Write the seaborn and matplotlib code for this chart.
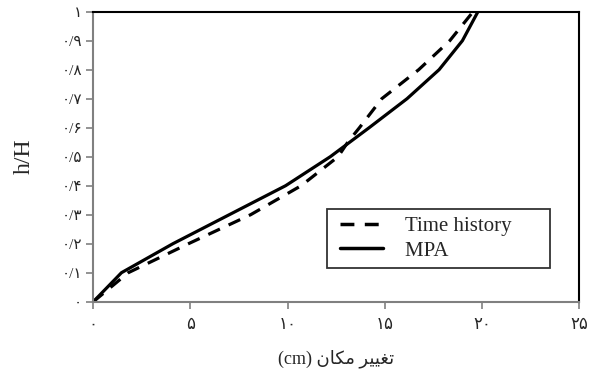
import matplotlib
matplotlib.use("Agg")
import matplotlib.pyplot as plt
from matplotlib.legend_handler import HandlerLine2D
import seaborn as sns
import pandas as pd
import numpy as np

# ---- data ----
th_x = [0, 1.8, 4.9, 8.1, 10.7, 12.6, 13.1, 13.7, 14.85, 16.75, 18.35, 19.55]
th_y = [0, 0.1, 0.2, 0.3, 0.4, 0.5, 0.55, 0.6, 0.7, 0.8, 0.9, 1.0]
mpa_x = [0, 1.45, 4.1, 7.0, 9.9, 12.2, 14.2, 16.15, 17.8, 19.0, 19.8]
mpa_y = [0, 0.1, 0.2, 0.3, 0.4, 0.5, 0.6, 0.7, 0.8, 0.9, 1.0]
series_names = ["Time history", "MPA"]

x_ticks = [0, 5, 10, 15, 20, 25]
x_tick_labels = ["۰", "۵", "۱۰", "۱۵", "۲۰", "۲۵"]
y_ticks = [0, 0.1, 0.2, 0.3, 0.4, 0.5, 0.6, 0.7, 0.8, 0.9, 1.0]
y_tick_labels = ["۰", "۰/۱", "۰/۲", "۰/۳", "۰/۴", "۰/۵", "۰/۶", "۰/۷", "۰/۸", "۰/۹", "۱"]
# "تغییر مکان (cm)" written in visual (left-to-right) order with presentation forms
x_label = "(cm) \uFEE5\uFE8E\uFB91\uFEE3 \uFEAE\uFEF4\uFEF4\uFED0\uFE97"
y_label = "h/H"

sns.set_theme(style="white")
plt.rcParams["font.family"] = ["Liberation Serif", "DejaVu Sans"]

df = pd.concat([
    pd.DataFrame({"x": th_x, "y": th_y, "series": series_names[0]}),
    pd.DataFrame({"x": mpa_x, "y": mpa_y, "series": series_names[1]}),
], ignore_index=True)

fig = plt.figure(figsize=(5.92, 3.71), dpi=100)
ax = fig.add_axes([0.1576, 0.1868, 0.8204, 0.7817])

sns.lineplot(data=df, x="x", y="y", style="series", style_order=series_names,
             dashes={"Time history": (4, 3), "MPA": ""},
             color="black", linewidth=2.3, sort=False, estimator=None, ax=ax)

ax.set_xlim(0, 25)
ax.set_ylim(0, 1)
ax.set_xticks(x_ticks)
ax.set_xticklabels(x_tick_labels, fontsize=12)
ax.set_yticks(y_ticks)
ax.set_yticklabels(y_tick_labels, fontsize=11)
ax.tick_params(axis="both", direction="out", length=5, width=1.2, color="#808080",
               left=True, bottom=True)
ax.tick_params(axis="y", pad=3)
ax.tick_params(axis="x", pad=6)
ax.set_xlabel(x_label, fontsize=13, labelpad=12)
ax.set_ylabel(y_label, fontsize=17, labelpad=19)

for s in ["left", "bottom"]:
    ax.spines[s].set_color("#808080")
    ax.spines[s].set_linewidth(1.5)
for s in ["top", "right"]:
    ax.spines[s].set_color("black")
    ax.spines[s].set_linewidth(1.5)


class ShiftedLineHandler(HandlerLine2D):
    """Draw the legend sample line shifted a little to the right."""
    shift = 4.2  # points

    def create_artists(self, legend, orig_handle, xdescent, ydescent, width,
                       height, fontsize, trans):
        artists = super().create_artists(legend, orig_handle, xdescent, ydescent,
                                         width, height, fontsize, trans)
        for a in artists:
            xd = np.asarray(a.get_xdata(), dtype=float)
            a.set_xdata(xd + self.shift)
        return artists


handles, labels = ax.get_legend_handles_labels()
pairs = [(h, l) for h, l in zip(handles, labels) if l in series_names]
handles = [p[0] for p in pairs]
labels = [p[1] + "      " for p in pairs]
for h in handles:
    h.set_linewidth(2.5)
leg = ax.legend(handles, labels, loc="lower left", bbox_to_anchor=(0.481, 0.116),
                fontsize=15, frameon=True, fancybox=False, edgecolor="black",
                handlelength=2.07, handletextpad=1.33, borderpad=0.35,
                labelspacing=0.25, borderaxespad=0,
                handler_map={h: ShiftedLineHandler() for h in handles})
leg.get_frame().set_linewidth(1.3)

fig.savefig("out.png", dpi=100, facecolor="white")
